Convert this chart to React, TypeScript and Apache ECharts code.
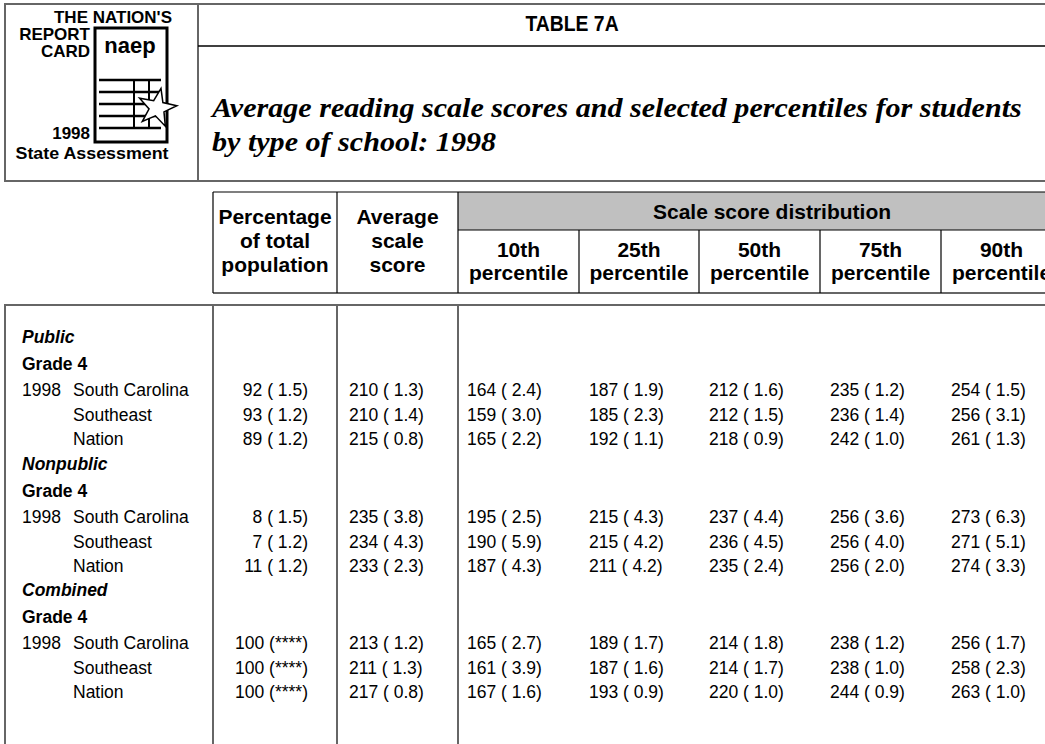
import React, { useEffect, useRef } from "react";
import * as echarts from "echarts";

// ---------- data ----------
const titleText = "TABLE 7A";
const subtitleLines = [
  "Average reading scale scores and selected percentiles for students",
  "by type of school: 1998",
];
const logoLines = ["THE NATION'S", "REPORT", "CARD", "1998", "State Assessment"];
const groups = ["Public", "Nonpublic", "Combined"];
const gradeLabel = "Grade 4";
const yearLabel = "1998";
const jurisdictions = ["South Carolina", "Southeast", "Nation"];
const colHeaders = [
  ["Percentage", "of total", "population"],
  ["Average", "scale", "score"],
];
const spannerHeader = "Scale score distribution";
const percentileHeaders = ["10th", "25th", "50th", "75th", "90th"];
const percentileWord = "percentile";

const pctTotal = [92, 93, 89, 8, 7, 11, 100, 100, 100];
const pctTotalSE = ["1.5", "1.2", "1.2", "1.5", "1.2", "1.2", "****", "****", "****"];
const avgScore = [210, 210, 215, 235, 234, 233, 213, 211, 217];
const avgScoreSE = ["1.3", "1.4", "0.8", "3.8", "4.3", "2.3", "1.2", "1.3", "0.8"];
const p10 = [164, 159, 165, 195, 190, 187, 165, 161, 167];
const p10SE = ["2.4", "3.0", "2.2", "2.5", "5.9", "4.3", "2.7", "3.9", "1.6"];
const p25 = [187, 185, 192, 215, 215, 211, 189, 187, 193];
const p25SE = ["1.9", "2.3", "1.1", "4.3", "4.2", "4.2", "1.7", "1.6", "0.9"];
const p50 = [212, 212, 218, 237, 236, 235, 214, 214, 220];
const p50SE = ["1.6", "1.5", "0.9", "4.4", "4.5", "2.4", "1.8", "1.7", "1.0"];
const p75 = [235, 236, 242, 256, 256, 256, 238, 238, 244];
const p75SE = ["1.2", "1.4", "1.0", "3.6", "4.0", "2.0", "1.2", "1.0", "0.9"];
const p90 = [254, 256, 261, 273, 271, 274, 256, 258, 263];
const p90SE = ["1.5", "3.1", "1.3", "6.3", "5.1", "3.3", "1.7", "2.3", "1.0"];

// ---------- layout ----------
const W = 1045;
const H = 744;
const SANS = "'Liberation Sans', Arial, Helvetica, sans-serif";
const SERIF = "'Liberation Serif', 'Times New Roman', serif";
const BODY_FONT = `17.5px ${SANS}`;
const HEAD_FONT = `bold 21px ${SANS}`;
const LINE_GRAY = "#666666";

function fmt(v: number, se: string) {
  return se === "****" ? `${v} (****)` : `${v} ( ${se})`;
}

function measure(text: string, font: string) {
  const c = document.createElement("canvas").getContext("2d");
  if (!c) return text.length * 10;
  c.font = font;
  return c.measureText(text).width;
}

function buildElements() {
  const els: any[] = [];
  const line = (x1: number, y1: number, x2: number, y2: number, stroke = LINE_GRAY, lw = 2) =>
    els.push({ type: "line", silent: true, shape: { x1, y1, x2, y2 }, style: { stroke, lineWidth: lw } });
  const text = (
    t: string,
    x: number,
    y: number,
    font: string,
    align: string = "left",
    extra: any = {}
  ) =>
    els.push({
      type: "text",
      x,
      y,
      silent: true,
      ...extra,
      style: { text: t, x: 0, y: 0, font, fill: "#000", textAlign: align, textVerticalAlign: "middle" },
    });

  // ---- outer header frame ----
  line(5, 4, W, 4);
  line(5, 181, W, 181);
  line(5, 3, 5, 182);
  line(198, 4, 198, 181);
  line(198, 46, W, 46, "#000", 1.5);

  // ---- logo ----
  const LOGO_FONT = `bold 17px ${SANS}`;
  text(logoLines[0], 172, 17, LOGO_FONT, "right", { scaleX: 1.0 });
  text(logoLines[1], 90, 34, LOGO_FONT, "right", { scaleX: 1.0 });
  text(logoLines[2], 90, 51, LOGO_FONT, "right", { scaleX: 1.0 });
  text(logoLines[3], 90, 133, LOGO_FONT, "right", { scaleX: 1.0 });
  text(logoLines[4], 92, 153, LOGO_FONT, "center", { scaleX: 1.05 });
  els.push({
    type: "rect",
    silent: true,
    shape: { x: 95, y: 28, width: 72, height: 114 },
    style: { fill: "#fff", stroke: "#000", lineWidth: 3 },
  });
  text("naep", 130, 45, `bold 22px ${SANS}`, "center", { scaleX: 1.0 });
  [80, 92, 104, 116, 128].forEach((yy) => line(99, yy, 161, yy, "#000", 2.5));
  line(134, 80, 134, 129, "#000", 2);
  line(149, 80, 149, 129, "#000", 2);
  const star: number[][] = [];
  for (let i = 0; i < 10; i++) {
    const a = -Math.PI / 2 + 0.2 + (i * Math.PI) / 5;
    const r = i % 2 === 0 ? 20 : 8;
    star.push([157 + r * Math.cos(a), 108 + r * Math.sin(a)]);
  }
  els.push({
    type: "polygon",
    silent: true,
    shape: { points: star },
    style: { fill: "#fff", stroke: "#000", lineWidth: 1.5 },
  });

  // ---- title & subtitle ----
  text(titleText, 572, 23, `bold 22px ${SANS}`, "center", { scaleX: 0.88 });
  const SUB_FONT = `bold italic 28px ${SERIF}`;
  const w1 = measure(subtitleLines[0], SUB_FONT);
  const sx = 810 / w1;
  text(subtitleLines[0], 212, 107, SUB_FONT, "left", { scaleX: sx });
  text(subtitleLines[1], 212, 141, SUB_FONT, "left", { scaleX: sx });

  // ---- column header block ----
  const colX = [213, 337, 458, 579, 699, 820, 941, 1062];
  els.push({
    type: "rect",
    silent: true,
    shape: { x: colX[2], y: 192, width: W - colX[2], height: 38 },
    style: { fill: "#c0c0c0" },
  });
  line(213, 192, W, 192, "#000", 1.2);
  line(colX[2], 230, W, 230, "#000", 1.2);
  line(213, 293, W, 293, LINE_GRAY, 2);
  line(213, 192, 213, 293, "#000", 1.2);
  line(colX[1], 192, colX[1], 293, "#000", 1.2);
  line(colX[2], 192, colX[2], 293, "#000", 1.2);
  for (let i = 3; i <= 6; i++) line(colX[i], 230, colX[i], 293, "#000", 1.2);

  const headY = [216, 240, 264];
  colHeaders.forEach((lines, ci) => {
    const cx = (colX[ci] + colX[ci + 1]) / 2;
    lines.forEach((t, li) => text(t, cx, headY[li], HEAD_FONT, "center"));
  });
  text(spannerHeader, 772, 211, HEAD_FONT, "center");
  percentileHeaders.forEach((t, i) => {
    const cx = (colX[2 + i] + colX[3 + i]) / 2;
    text(t, cx, 249, HEAD_FONT, "center");
    text(percentileWord, cx, 272, HEAD_FONT, "center");
  });

  // ---- body frame ----
  line(5, 305, W, 305);
  [5, 213, 337, 458].forEach((x) => line(x, 304, x, H + 2));

  // ---- body rows ----
  const groupY = [337, 464, 590];
  const gradeOff = 27;
  const rowOff = [53, 78, 102];
  const pctCols = [p10, p25, p50, p75, p90];
  const pctSEs = [p10SE, p25SE, p50SE, p75SE, p90SE];
  const pctX = [467, 589, 709, 830, 951];
  groups.forEach((g, gi) => {
    const gy = groupY[gi];
    text(g, 22, gy, `italic bold 17.5px ${SANS}`);
    text(gradeLabel, 22, gy + gradeOff, `bold 17.5px ${SANS}`);
    jurisdictions.forEach((j, ji) => {
      const k = gi * 3 + ji;
      const y = gy + rowOff[ji];
      if (ji === 0) text(yearLabel, 22, y, BODY_FONT);
      text(j, 73, y, BODY_FONT);
      text(fmt(pctTotal[k], pctTotalSE[k]), 308, y, BODY_FONT, "right");
      text(fmt(avgScore[k], avgScoreSE[k]), 349, y, BODY_FONT);
      pctCols.forEach((col, ci) => text(fmt(col[k], pctSEs[ci][k]), pctX[ci], y, BODY_FONT));
    });
  });
  return els;
}

export default function App() {
  const ref = useRef<HTMLDivElement>(null);
  useEffect(() => {
    if (!ref.current) return;
    const chart = echarts.init(ref.current, null, { renderer: "svg" });
    chart.setOption({ animation: false, graphic: { elements: buildElements() } });
    return () => chart.dispose();
  }, []);
  return (
    <div
      ref={ref}
      style={{ position: "absolute", left: 0, top: 0, width: W, height: H, background: "#fff" }}
    />
  );
}
